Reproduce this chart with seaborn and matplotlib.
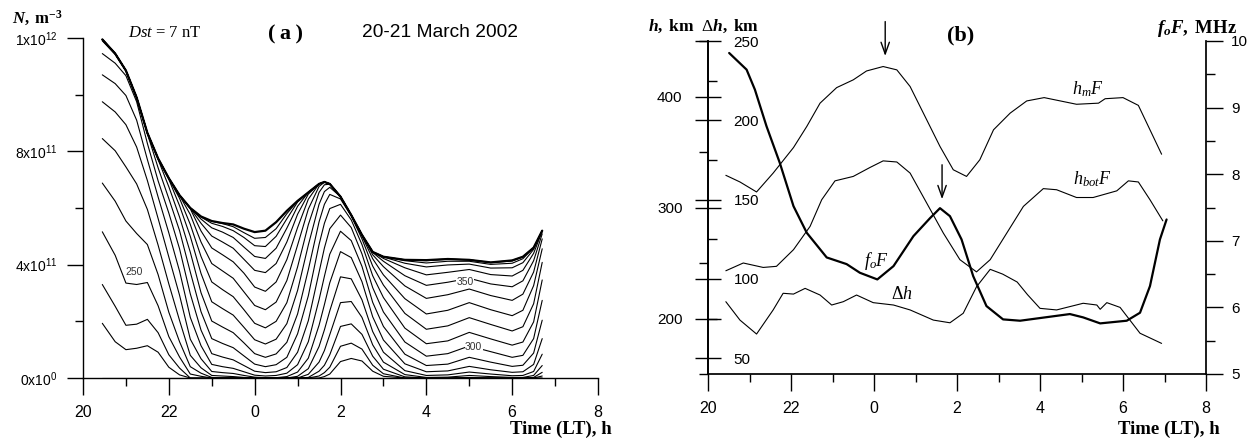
import numpy as np
import pandas as pd
import matplotlib
matplotlib.use("Agg")
import matplotlib.pyplot as plt
import seaborn as sns
from matplotlib.ticker import FixedLocator

# ---------------- data ----------------
# panel (a): local time (h, 24 = midnight) and electron density (1e11 m^-3)
T = [20.45, 20.75, 21.0, 21.25, 21.5, 21.75, 22.0, 22.25, 22.5, 22.75, 23.0,
     23.25, 23.5, 23.75, 24.0, 24.25, 24.5, 24.75, 25.0, 25.25, 25.5, 25.625,
     25.75, 26.0, 26.25, 26.5, 26.75, 27.0, 27.5, 28.0, 28.5, 29.0, 29.5,
     30.0, 30.25, 30.5, 30.7]
NmF2 = [11.95, 11.45, 10.85, 9.9, 8.65, 7.75, 7.05, 6.45, 6.0, 5.7, 5.54, 5.47, 5.42, 5.27, 5.15, 5.2, 5.5, 5.9, 6.25, 6.55, 6.85, 6.92, 6.85, 6.4, 5.75, 5.05, 4.45, 4.28, 4.17, 4.16, 4.2, 4.17, 4.08, 4.15, 4.28, 4.6, 5.2]
N400 = [11.95, 11.45, 10.85, 9.9, 8.65, 7.75, 7.05, 6.45, 6.0, 5.7, 5.53, 5.45, 5.34, 5.13, 4.93, 4.96, 5.27, 5.80, 6.25, 6.55, 6.85, 6.92, 6.85, 6.4, 5.75, 5.05, 4.45, 4.28, 4.17, 4.16, 4.2, 4.17, 4.08, 4.15, 4.28, 4.6, 5.2]
N390 = [11.95, 11.45, 10.85, 9.9, 8.65, 7.75, 7.05, 6.45, 6.0, 5.68, 5.46, 5.35, 5.20, 4.96, 4.67, 4.64, 5.00, 5.62, 6.21, 6.55, 6.85, 6.92, 6.85, 6.4, 5.75, 5.05, 4.45, 4.28, 4.17, 4.14, 4.19, 4.17, 4.07, 4.13, 4.27, 4.6, 5.2]
N380 = [11.95, 11.45, 10.85, 9.9, 8.65, 7.75, 7.05, 6.45, 6.0, 5.61, 5.30, 5.15, 4.96, 4.62, 4.29, 4.22, 4.58, 5.29, 6.06, 6.55, 6.85, 6.92, 6.85, 6.4, 5.75, 5.05, 4.45, 4.28, 4.14, 4.06, 4.12, 4.12, 4.01, 4.05, 4.21, 4.6, 5.2]
N370 = [11.95, 11.45, 10.85, 9.9, 8.65, 7.75, 7.05, 6.45, 5.99, 5.46, 5.01, 4.80, 4.58, 4.19, 3.80, 3.72, 4.04, 4.80, 5.78, 6.49, 6.85, 6.92, 6.85, 6.4, 5.75, 5.05, 4.45, 4.27, 4.05, 3.92, 3.99, 4.02, 3.88, 3.89, 4.07, 4.54, 5.2]
N360 = [11.95, 11.45, 10.85, 9.9, 8.65, 7.75, 7.05, 6.45, 5.97, 5.19, 4.59, 4.35, 4.10, 3.70, 3.21, 3.06, 3.39, 4.18, 5.31, 6.31, 6.85, 6.92, 6.85, 6.4, 5.75, 5.05, 4.45, 4.22, 3.89, 3.64, 3.73, 3.83, 3.65, 3.60, 3.80, 4.40, 5.18]
N350 = [11.95, 11.45, 10.85, 9.9, 8.65, 7.75, 7.05, 6.44, 5.77, 4.80, 4.04, 3.78, 3.52, 3.04, 2.56, 2.41, 2.68, 3.44, 4.69, 5.96, 6.76, 6.91, 6.85, 6.4, 5.75, 5.05, 4.43, 4.12, 3.61, 3.27, 3.38, 3.52, 3.32, 3.22, 3.43, 4.14, 5.09]
N340 = [11.95, 11.45, 10.85, 9.9, 8.65, 7.75, 7.04, 6.34, 5.42, 4.29, 3.39, 3.12, 2.87, 2.41, 1.93, 1.77, 2.00, 2.66, 3.92, 5.41, 6.55, 6.82, 6.84, 6.4, 5.75, 5.05, 4.35, 3.93, 3.25, 2.81, 2.94, 3.14, 2.91, 2.74, 2.96, 3.74, 4.91]
N330 = [11.95, 11.45, 10.85, 9.9, 8.65, 7.74, 7.01, 6.08, 5.00, 3.69, 2.69, 2.45, 2.22, 1.79, 1.35, 1.20, 1.37, 1.92, 3.09, 4.69, 6.13, 6.58, 6.73, 6.4, 5.75, 5.01, 4.21, 3.64, 2.80, 2.26, 2.39, 2.66, 2.41, 2.20, 2.39, 3.26, 4.56]
N320 = [11.93, 11.45, 10.85, 9.9, 8.65, 7.71, 6.75, 5.68, 4.44, 3.01, 2.01, 1.80, 1.60, 1.24, 0.86, 0.73, 0.85, 1.26, 2.26, 3.82, 5.51, 6.13, 6.48, 6.32, 5.72, 4.91, 3.95, 3.28, 2.28, 1.72, 1.84, 2.13, 1.89, 1.66, 1.81, 2.62, 4.08]
N310 = [11.9, 11.42, 10.84, 9.89, 8.62, 7.42, 6.33, 5.20, 3.74, 2.34, 1.39, 1.22, 1.07, 0.78, 0.49, 0.40, 0.47, 0.73, 1.56, 2.90, 4.71, 5.46, 5.98, 6.13, 5.58, 4.71, 3.61, 2.84, 1.76, 1.21, 1.31, 1.61, 1.38, 1.16, 1.27, 1.98, 3.46]
N300 = [11.45, 11.11, 10.67, 9.75, 8.28, 6.96, 5.82, 4.56, 2.97, 1.69, 0.86, 0.74, 0.64, 0.44, 0.24, 0.19, 0.22, 0.37, 0.91, 2.02, 3.73, 4.59, 5.27, 5.75, 5.31, 4.38, 3.19, 2.33, 1.27, 0.77, 0.86, 1.13, 0.93, 0.73, 0.80, 1.39, 2.74]
N290 = [10.7, 10.39, 9.97, 9.1, 7.71, 6.39, 5.12, 3.77, 2.14, 1.14, 0.48, 0.40, 0.34, 0.22, 0.10, 0.07, 0.09, 0.17, 0.47, 1.28, 2.76, 3.59, 4.37, 5.18, 4.85, 3.94, 2.67, 1.82, 0.84, 0.44, 0.49, 0.73, 0.56, 0.41, 0.45, 0.88, 2.04]
N280 = [9.75, 9.39, 8.94, 8.15, 6.97, 5.63, 4.27, 2.92, 1.37, 0.68, 0.23, 0.19, 0.16, 0.09, 0.03, 0.01, 0.01, 0.05, 0.21, 0.70, 1.86, 2.59, 3.36, 4.46, 4.25, 3.40, 2.16, 1.34, 0.50, 0.22, 0.25, 0.41, 0.29, 0.20, 0.22, 0.48, 1.39]
N270 = [8.45, 8.02, 7.45, 6.85, 5.95, 4.69, 3.32, 2.03, 0.80, 0.36, 0.09, 0.07, 0.05, 0.02, 0.0, 0.0, 0.0, 0.0, 0.06, 0.33, 1.11, 1.70, 2.37, 3.57, 3.50, 2.76, 1.64, 0.91, 0.26, 0.09, 0.11, 0.21, 0.14, 0.08, 0.09, 0.23, 0.84]
N260 = [6.88, 6.24, 5.54, 5.1, 4.71, 3.65, 2.32, 1.28, 0.40, 0.17, 0.02, 0.0, 0.0, 0.0, 0.0, 0.0, 0.0, 0.0, 0.0, 0.13, 0.56, 0.97, 1.53, 2.66, 2.70, 2.14, 1.17, 0.56, 0.12, 0.02, 0.03, 0.09, 0.05, 0.02, 0.02, 0.09, 0.44]
N250 = [5.16, 4.33, 3.35, 3.3, 3.37, 2.55, 1.46, 0.74, 0.14, 0.06, 0.0, 0.0, 0.0, 0.0, 0.0, 0.0, 0.0, 0.0, 0.0, 0.02, 0.24, 0.45, 0.82, 1.82, 1.91, 1.54, 0.77, 0.31, 0.04, 0.0, 0.0, 0.02, 0.0, 0.0, 0.0, 0.02, 0.20]
N240 = [3.3, 2.53, 1.86, 1.9, 2.07, 1.60, 0.82, 0.35, 0.0, 0.0, 0.0, 0.0, 0.0, 0.0, 0.0, 0.0, 0.0, 0.0, 0.0, 0.0, 0.07, 0.19, 0.38, 1.12, 1.23, 1.02, 0.45, 0.15, 0.0, 0.0, 0.0, 0.0, 0.0, 0.0, 0.0, 0.0, 0.07]
N230 = [1.93, 1.28, 1.0, 1.05, 1.14, 0.91, 0.38, 0.11, 0.0, 0.0, 0.0, 0.0, 0.0, 0.0, 0.0, 0.0, 0.0, 0.0, 0.0, 0.0, 0.0, 0.05, 0.14, 0.58, 0.69, 0.60, 0.24, 0.06, 0.0, 0.0, 0.0, 0.0, 0.0, 0.0, 0.0, 0.0, 0.0]
N220 = [0.0, 0.0, 0.0, 0.0, 0.0, 0.0, 0.0, 0.0, 0.0, 0.0, 0.0, 0.0, 0.0, 0.0, 0.0, 0.0, 0.0, 0.0, 0.0, 0.0, 0.0, 0.0, 0.0, 0.0, 0.0, 0.0, 0.0, 0.0, 0.0, 0.0, 0.0, 0.0, 0.0, 0.0, 0.0, 0.0, 0.0]
heights = [400, 390, 380, 370, 360, 350, 340, 330, 320, 310, 300, 290, 280,
           270, 260, 250, 240, 230, 220]
profiles = [N400, N390, N380, N370, N360, N350, N340, N330, N320, N310, N300,
            N290, N280, N270, N260, N250, N240, N230, N220]
assert all(len(p) == len(T) for p in profiles) and len(NmF2) == len(T)

# panel (b)
hmF_t = [20.43, 20.77, 21.17, 21.57, 22.06, 22.38, 22.70, 23.10, 23.50, 23.82,
         24.22, 24.55, 24.87, 25.19, 25.59, 25.91, 26.23, 26.55, 26.88, 27.28,
         27.68, 28.10, 28.88, 29.41, 29.57, 30.0, 30.37, 30.65, 30.93]
hmF = [329, 323, 314, 331, 354, 373, 394, 408, 415, 423, 427, 424, 409, 385,
       355, 334, 328, 343, 370, 385, 396, 399, 393, 394, 398, 399, 392, 370, 348]
hbotF_t = [20.43, 20.85, 21.33, 21.65, 22.06, 22.46, 22.74, 23.06, 23.50, 23.90,
           24.22, 24.55, 24.87, 25.27, 25.67, 26.07, 26.47, 26.80, 27.20, 27.60,
           28.08, 28.40, 28.88, 29.28, 29.85, 30.13, 30.37, 30.65, 30.96]
hbotF = [243, 250, 246, 247, 262, 283, 307, 324, 328, 336, 342, 341, 331, 304,
         277, 253, 242, 253, 277, 301, 317, 316, 309, 309, 315, 324, 323, 307, 288]
dh_t = [20.43, 20.77, 21.17, 21.57, 21.81, 22.06, 22.34, 22.70, 22.98, 23.26,
        23.58, 23.98, 24.47, 24.87, 25.43, 25.83, 26.15, 26.47, 26.80, 27.10,
        27.45, 27.70, 28.0, 28.40, 29.04, 29.37, 29.45, 29.61, 29.93, 30.41, 30.93]
dh = [85.6, 74, 65.2, 80.4, 90.9, 90.4, 94, 89.8, 83.5, 85.6, 89.8, 85, 83.5,
      80.4, 74, 72.3, 78.3, 95, 106, 103, 98, 90, 81.4, 80.4, 84.6, 83.5, 80.8,
      85, 82, 65.7, 59.3]
foF_t = [20.51, 20.93, 21.13, 21.41, 21.73, 22.06, 22.38, 22.86, 23.34, 23.66,
         24.08, 24.47, 24.95, 25.35, 25.59, 25.83, 26.11, 26.39, 26.71, 27.11,
         27.52, 28.0, 28.72, 29.04, 29.45, 30.09, 30.41, 30.65, 30.89, 31.05]
foF = [9.82, 9.57, 9.27, 8.72, 8.17, 7.52, 7.12, 6.75, 6.65, 6.52, 6.42, 6.62,
       7.07, 7.34, 7.49, 7.37, 7.02, 6.47, 6.02, 5.82, 5.80, 5.84, 5.90, 5.85,
       5.76, 5.80, 5.92, 6.32, 7.02, 7.32]

hour_ticks = [20, 22, 24, 26, 28, 30, 32]
hour_labels = ["20", "22", "0", "2", "4", "6", "8"]
N_ticks = [0, 4, 8, 12]
N_labels = [r"$\mathsf{0x10^{0}}$", r"$\mathsf{4x10^{11}}$",
            r"$\mathsf{8x10^{11}}$", r"$\mathsf{1x10^{12}}$"]

# ---------------- style ----------------
sns.set_theme(style="white", rc={"text.color": "black", "axes.edgecolor": "black",
                                 "xtick.color": "black", "ytick.color": "black",
                                 "axes.labelcolor": "black"})
plt.rcParams["font.family"] = ["Liberation Sans", "DejaVu Sans"]
plt.rcParams["mathtext.fontset"] = "custom"
plt.rcParams["mathtext.rm"] = "Liberation Serif"
plt.rcParams["mathtext.it"] = "Liberation Serif:italic"
plt.rcParams["mathtext.bf"] = "Liberation Serif:bold"
plt.rcParams["mathtext.cal"] = "Liberation Serif:bold:italic"
plt.rcParams["mathtext.sf"] = "Liberation Sans"

PX = 1 / 1.3889  # points per pixel at 100 dpi
W, H = 1253, 441
fig = plt.figure(figsize=(W / 100, H / 100), dpi=100)
SERIF = ["Liberation Serif", "DejaVu Serif"]


def fx(px):
    return px / W


def fy(py):
    return 1 - py / H


def style_time_axis(ax):
    ax.set_xlim(20, 32)
    ax.xaxis.set_major_locator(FixedLocator(hour_ticks))
    ax.set_xticklabels(hour_labels)
    ax.xaxis.set_minor_locator(FixedLocator([21, 23, 25, 27, 29, 31]))
    ax.tick_params(axis="x", which="major", direction="out", length=17 * PX,
                   width=1.0, labelsize=11.5, pad=7, bottom=True)
    ax.tick_params(axis="x", which="minor", direction="out", length=8 * PX,
                   width=1.0, bottom=True)
    ax.set_xlabel("")


# ---------------- panel (a) ----------------
axa = fig.add_axes([fx(83), fy(378), fx(515), 340 / H])
axa.set_facecolor("none")
rows = []
for h, vals in zip(heights, profiles):
    for t, n in zip(T, vals):
        rows.append((h, t, n))
prof_df = pd.DataFrame(rows, columns=["h", "t", "N"])
sns.lineplot(data=prof_df, x="t", y="N", units="h", estimator=None, sort=False,
             ax=axa, color="black", lw=0.8)
env_df = pd.DataFrame({"t": T, "N": NmF2})
sns.lineplot(data=env_df, x="t", y="N", ax=axa, color="black", lw=1.6,
             estimator=None, sort=False)
axa.set_ylim(0, 12)
style_time_axis(axa)
axa.yaxis.set_major_locator(FixedLocator(N_ticks))
axa.set_yticklabels(N_labels)
axa.yaxis.set_minor_locator(FixedLocator([2, 6, 10]))
axa.tick_params(axis="y", which="major", direction="out", length=16 * PX,
                width=1.0, labelsize=10, pad=7, left=True)
axa.tick_params(axis="y", which="minor", direction="out", length=8 * PX,
                width=1.0, left=True)
axa.set_ylabel("")
for s in ["top", "right"]:
    axa.spines[s].set_visible(False)
for s in ["left", "bottom"]:
    axa.spines[s].set_linewidth(1.0)
lab_kw = dict(fontsize=7.5, ha="center", va="center", color="#333333",
              bbox=dict(fc="white", ec="none", pad=0.3))
axa.text(21.19, 3.74, "250", **lab_kw)
axa.text(28.9, 3.38, "350", **lab_kw)
axa.text(29.1, 1.1, "300", **lab_kw)

fig.text(fx(12), fy(24), r"$\mathcal{N}\mathbf{,\ m^{-3}}$", fontsize=12)
fig.text(fx(128), fy(37), r"$Dst$ = 7 nT", fontsize=12, family=SERIF)
fig.text(fx(268), fy(39), "(\u2009a\u2009)", fontsize=16, family=SERIF, weight="bold")
fig.text(fx(362), fy(37), "20-21 March 2002", fontsize=13.8)
fig.text(fx(612), fy(434), "Time (LT), h", fontsize=13.5, family=SERIF,
         weight="bold", ha="right")

# ---------------- panel (b) ----------------
axb = fig.add_axes([fx(708), fy(374), fx(498), 333 / H])
axb.set_facecolor("none")
sns.lineplot(x=hmF_t, y=hmF, ax=axb, color="black", lw=0.8, estimator=None, sort=False)
sns.lineplot(x=hbotF_t, y=hbotF, ax=axb, color="black", lw=0.8, estimator=None, sort=False)
axb.set_ylim(150, 450)
style_time_axis(axb)
axb.yaxis.set_major_locator(FixedLocator([200, 300, 400]))
axb.yaxis.set_minor_locator(FixedLocator([150, 250, 350, 450]))
axb.tick_params(axis="y", which="major", direction="inout", length=26 * PX,
                width=1.0, labelsize=11, pad=9, left=True)
axb.tick_params(axis="y", which="minor", direction="out", length=9 * PX,
                width=1.0, left=True)
for s in ["top", "right"]:
    axb.spines[s].set_visible(False)

axd = axb.twinx()
sns.lineplot(x=dh_t, y=dh, ax=axd, color="black", lw=0.8, estimator=None, sort=False)
axd.set_ylim(40, 250)
axd.spines["right"].set_position(("axes", 0))
for s in ["top", "left", "bottom"]:
    axd.spines[s].set_visible(False)
axd.yaxis.set_major_locator(FixedLocator([50, 100, 150, 200, 250]))
axd.yaxis.set_minor_locator(FixedLocator([75, 125, 175, 225]))
axd.tick_params(axis="y", which="major", direction="inout", length=26 * PX,
                width=1.0, labelsize=11, pad=9, right=True)
axd.tick_params(axis="y", which="minor", direction="out", length=9 * PX,
                width=1.0, right=True)
axd.set_ylabel("")

axf = axb.twinx()
sns.lineplot(x=foF_t, y=foF, ax=axf, color="black", lw=1.6, estimator=None, sort=False)
axf.set_ylim(5, 10)
axf.set_xlim(20, 32)
for s in ["top", "left", "bottom"]:
    axf.spines[s].set_visible(False)
axf.yaxis.set_major_locator(FixedLocator([5, 6, 7, 8, 9, 10]))
axf.yaxis.set_minor_locator(FixedLocator([5.5, 6.5, 7.5, 8.5, 9.5]))
axf.tick_params(axis="y", which="major", direction="out", length=17 * PX,
                width=1.0, labelsize=11, pad=6, right=True)
axf.tick_params(axis="y", which="minor", direction="out", length=9 * PX,
                width=1.0, right=True)
axf.set_ylabel("")

fig.text(fx(648), fy(31), r"$\mathcal{h}\mathbf{,\ km}\ \ \Delta\mathcal{h}\mathbf{,\ km}$", fontsize=12.5)
fig.text(fx(947), fy(40), "(b)", fontsize=16, family=SERIF, weight="bold")
fig.text(fx(1157), fy(33), r"$\mathcal{f_{o}F}\mathbf{,\ MHz}$", fontsize=13.5)
fig.text(fx(1220), fy(434), "Time (LT), h", fontsize=13.5, family=SERIF,
         weight="bold", ha="right")
axb.text(29.16, 398, r"$h_{m}F$", fontsize=13, ha="center", va="bottom")
axb.text(29.25, 317, r"$h_{bot}F$", fontsize=13, ha="center", va="bottom")
axb.text(24.05, 242, r"$f_{o}F$", fontsize=13, ha="center", va="bottom")
axb.text(24.67, 214, r"$\Delta h$", fontsize=13, ha="center", va="bottom")
axb.annotate("", xy=(24.27, 434), xytext=(24.27, 470), annotation_clip=False,
             arrowprops=dict(arrowstyle="->,head_length=0.7,head_width=0.25", lw=1, color="black"))
axb.annotate("", xy=(25.64, 305), xytext=(25.64, 341), annotation_clip=False,
             arrowprops=dict(arrowstyle="->,head_length=0.7,head_width=0.25", lw=1, color="black"))

fig.savefig("out.png", dpi=100)
